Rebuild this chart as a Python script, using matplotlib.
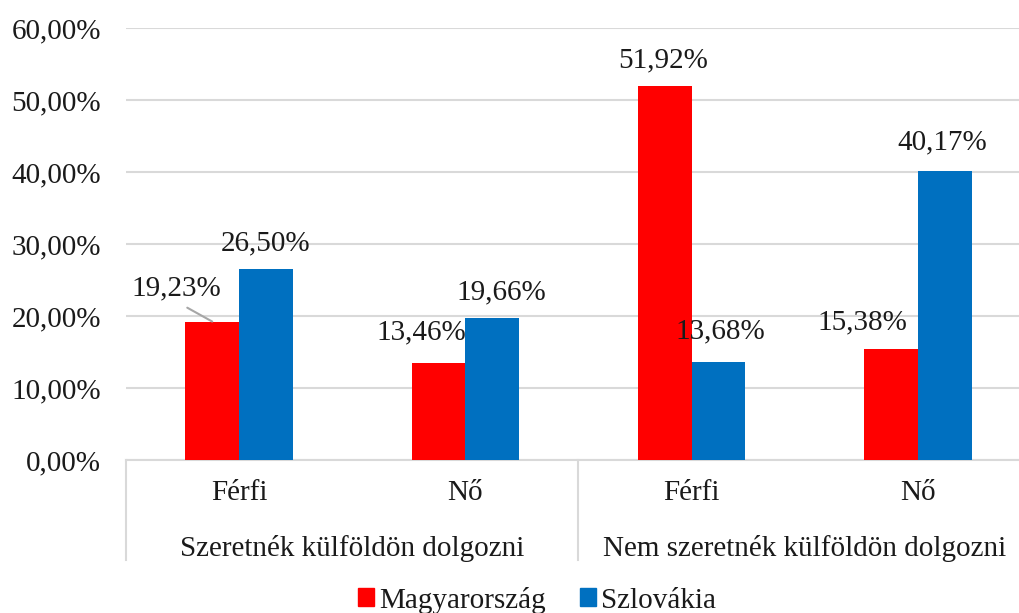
import matplotlib.pyplot as plt
from matplotlib.patches import Patch
from matplotlib.ticker import FuncFormatter
import numpy as np

plt.rcParams['font.family'] = ['Liberation Serif', 'DejaVu Serif']

groups = ['Szeretnék külföldön dolgozni', 'Nem szeretnék külföldön dolgozni']
subcats = ['Férfi', 'Nő', 'Férfi', 'Nő']
magyar = [19.23, 13.46, 51.92, 15.38]
szlovak = [26.50, 19.66, 13.68, 40.17]
series_names = ['Magyarország', 'Szlovákia']

COL_HU = '#FF0000'
COL_SK = '#0070C0'
TXT = '#1a1a1a'
GRID = '#d9d9d9'
FS = 21

W, H = 1019, 613
fig = plt.figure(figsize=(W / 100, H / 100), dpi=100)
# plot area: x from 126 px, y from 28 to 460 px (right side cropped)
ax = fig.add_axes([126 / W, (H - 460) / H, (W - 126) / W, 432 / H])

x = np.arange(len(subcats))
bw = 0.238
b1 = ax.bar(x - bw / 2, magyar, bw, color=COL_HU, zorder=3)
b2 = ax.bar(x + bw / 2, szlovak, bw, color=COL_SK, zorder=3)

ax.set_ylim(0, 60)
ax.set_xlim(-0.5, 3.5 - 12 / 226.7)
ax.set_yticks(np.arange(0, 61, 10))
ax.yaxis.set_major_formatter(FuncFormatter(lambda v, p: f'{v:.2f}%'.replace('.', ',')))
ax.tick_params(axis='y', length=0, pad=18, labelsize=FS, colors=TXT)
ax.set_xticks([])
ax.grid(axis='y', color=GRID, linewidth=1.5, zorder=0)
for s in ['top', 'right', 'left']:
    ax.spines[s].set_visible(False)
ax.spines['bottom'].set_color(GRID)
ax.spines['bottom'].set_linewidth(1.5)

# data labels, offsets in pixels from bar top centre
offs_hu = [(-36, 33), (-17, 31), (-2, 26), (-29, 27)]
offs_sk = [(0, 26), (9, 26), (2, 30), (-3, 28)]
for bars, vals, offs in [(b1, magyar, offs_hu), (b2, szlovak, offs_sk)]:
    for i, (bar, v) in enumerate(zip(bars, vals)):
        cx = bar.get_x() + bar.get_width() / 2
        dx, dy = offs[i]
        kw = {}
        if bars is b1 and i == 0:
            kw['arrowprops'] = dict(arrowstyle='-', color='#a6a6a6', lw=1.5,
                                    relpos=(0.5, 0), shrinkA=5, shrinkB=0)
        ax.annotate(f'{v:.2f}%'.replace('.', ','), xy=(cx, v), xytext=(dx, dy),
                    textcoords='offset pixels', ha='center', va='center',
                    fontsize=FS, color=TXT, **kw)

# two-level category axis
tr = ax.get_xaxis_transform()
for i, lab in enumerate(subcats):
    ax.text(x[i], -33 / 432, lab, transform=tr, ha='center', va='center',
            fontsize=FS, color=TXT)
for g, lab in enumerate(groups):
    ax.text(2 * g + 0.5, -88 / 432, lab, transform=tr, ha='center', va='center',
            fontsize=FS, color=TXT)
for sx in [-0.5, 1.5]:
    ax.plot([sx, sx], [0, -100 / 432], transform=tr, color=GRID, lw=1.5,
            clip_on=False)

handles = [Patch(color=COL_HU), Patch(color=COL_SK)]
fig.legend(handles, series_names, loc='center', ncol=2, frameon=False,
           bbox_to_anchor=(537 / W, 1 - 600 / H), fontsize=FS,
           handlelength=0.55, handleheight=0.55, handletextpad=0.15,
           columnspacing=1.2, labelcolor=TXT)

fig.savefig('out.png', dpi=100)
